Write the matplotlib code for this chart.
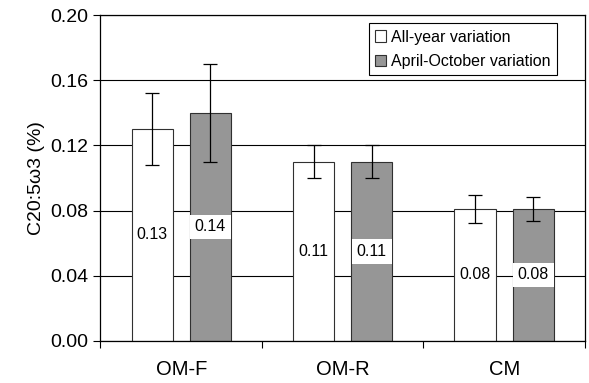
import numpy as np
import matplotlib.pyplot as plt

plt.rcParams['font.family'] = ['Liberation Sans', 'DejaVu Sans']

groups = ['OM-F', 'OM-R', 'CM']
all_year = [0.13, 0.11, 0.081]
all_year_err = [0.022, 0.010, 0.0087]
apr_oct = [0.14, 0.11, 0.081]
apr_oct_err = [0.030, 0.010, 0.0072]
labels_all = ['0.13', '0.11', '0.08']
labels_apr = ['0.14', '0.11', '0.08']

fig = plt.figure(figsize=(5.89, 3.83), dpi=100)
ax = fig.add_axes([0.1706, 0.1104, 0.8224, 0.8496])

x = np.arange(len(groups)) + 0.5
w = 0.255
off = 0.18

ax.yaxis.grid(True, color='black', lw=0.8)
ax.set_axisbelow(True)

ax.bar(x - off, all_year, w, color='white', edgecolor='#303030', lw=0.8,
       label='All-year variation', zorder=2)
ax.bar(x + off, apr_oct, w, color='#969696', edgecolor='#303030', lw=0.8,
       label='April-October variation', zorder=2)
ax.errorbar(x - off, all_year, yerr=all_year_err, fmt='none', ecolor='black',
            elinewidth=0.9, capsize=5, capthick=0.9, zorder=3)
ax.errorbar(x + off, apr_oct, yerr=apr_oct_err, fmt='none', ecolor='black',
            elinewidth=0.9, capsize=5, capthick=0.9, zorder=3)

for xi, v, t in zip(x - off, all_year, labels_all):
    ax.text(xi, v / 2, t, ha='center', va='center', fontsize=11.5, zorder=4)
for xi, v, t in zip(x + off, apr_oct, labels_apr):
    ax.text(xi, v / 2, t, ha='center', va='center', fontsize=11.5, zorder=4,
            bbox=dict(facecolor='white', edgecolor='none', pad=3.5))

ax.set_xlim(0, 3)
ax.set_ylim(0, 0.20)
ax.set_yticks(np.arange(0, 0.201, 0.04))
ax.set_yticklabels(['%.2f' % v for v in np.arange(0, 0.201, 0.04)], fontsize=14)
ax.set_xticks([0, 1, 2, 3])
ax.set_xticklabels([])
ax.set_xticks(x, minor=True)
ax.set_xticklabels(groups, minor=True, fontsize=14.5)
ax.tick_params(axis='x', which='minor', length=0, pad=14)
ax.tick_params(axis='both', which='major', length=5, width=0.8, direction='out')
ax.set_ylabel('C20:5ω3 (%)', fontsize=14, labelpad=4)

for s in ax.spines.values():
    s.set_linewidth(0.9)
    s.set_color('black')

leg = ax.legend(loc='upper right', bbox_to_anchor=(0.942, 0.976), fontsize=11.5,
                frameon=True, fancybox=False, edgecolor='black', framealpha=1,
                handlelength=0.7, handleheight=0.7, handletextpad=0.3,
                borderpad=0.4, labelspacing=0.6, borderaxespad=0)
leg.get_frame().set_linewidth(0.8)

fig.savefig('out.png', dpi=100)
